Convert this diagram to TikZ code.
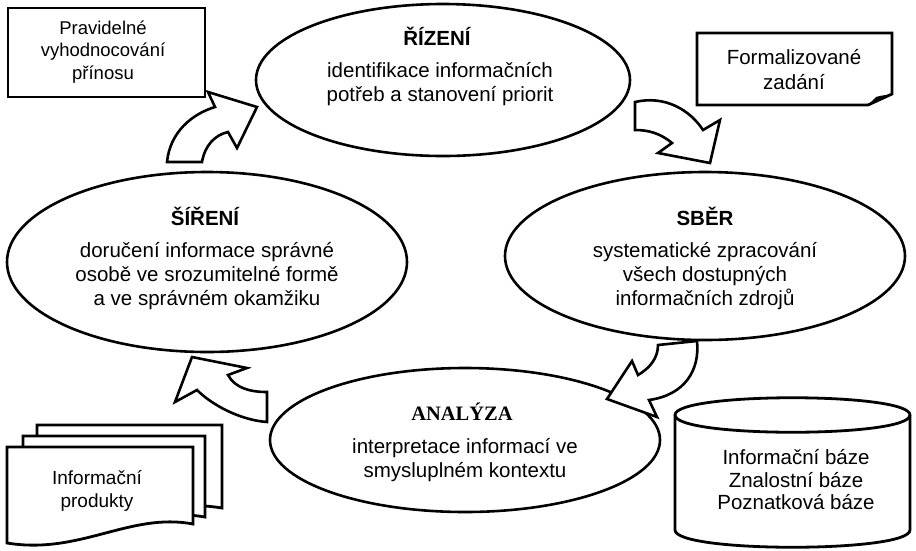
\documentclass[tikz,border=0pt]{standalone}
\usepackage{fontspec}
\setmainfont{Liberation Sans}
\newfontfamily\tnr{Liberation Serif}
\usetikzlibrary{shapes.geometric}
\begin{document}
\begin{tikzpicture}[x=1pt,y=-1pt,
  ell/.style={draw, line width=2.6pt, ellipse, inner sep=0pt, fill=white},
  txt/.style={align=center, inner sep=0pt, font=\fontsize{20.5}{24}\selectfont},
  ttl/.style={inner sep=0pt, font=\fontsize{20.5}{24}\selectfont\bfseries},
  barrow/.style={draw, line width=2.6pt, fill=white, line join=miter},
  boxline/.style={draw, line width=2.8pt, fill=white}]
\useasboundingbox (0,0) rectangle (916,550);
% ellipses
\node[ell, minimum width=374pt, minimum height=152pt] (rizeni) at (443,80) {};
\node[ell, minimum width=400pt, minimum height=180pt] (sireni) at (207,262) {};
\node[ell, minimum width=400pt, minimum height=168pt] (sber) at (705,256) {};
\node[ell, minimum width=390pt, minimum height=144pt] (analyza) at (465,440) {};
% texts
\node[ttl] (tR) at (437,36) {ŘÍZENÍ};
\node[txt] (dR) at (440,84) {identifikace informačních\\potřeb a stanovení priorit};
\node[ttl] (tS) at (205,216) {ŠÍŘENÍ};
\node[txt] (dS) at (207,276) {doručení informace správné\\osobě ve srozumitelné formě\\a ve správném okamžiku};
\node[ttl] (tB) at (705,216) {SBĚR};
\node[txt] (dB) at (705,276) {systematické zpracování\\všech dostupných\\informačních zdrojů};
\node[inner sep=0pt, font=\fontsize{20.5}{24}\selectfont\tnr\bfseries] (tA) at (462,412) {ANALÝZA};
\node[txt] (dA) at (465,460) {interpretace informací ve\\smysluplném kontextu};
% block arrows
\path[barrow] (167,162) -- (202,162) .. controls (205,145) and (215,135) .. (228,132)
  -- (237,148) -- (257,107) -- (208,92) -- (215,107)
  .. controls (192,114) and (170,132) .. (167,162) -- cycle;
\path[barrow] (635,102) .. controls (665,95) and (690,110) .. (703,130)
  -- (720,120) -- (710,163) -- (658,153) -- (672,143)
  .. controls (660,133) and (648,130) .. (635,130) -- cycle;
\path[barrow] (658,345) -- (697,341) .. controls (700,370) and (685,395) .. (649,400)
  -- (657,417) -- (607,399) -- (632,361) -- (638,375)
  .. controls (650,368) and (658,358) .. (658,345) -- cycle;
\path[barrow] (267,392) -- (267,422) .. controls (240,420) and (212,405) .. (197,390)
  -- (175,402) -- (192,357) -- (247,368) -- (228,375)
  .. controls (235,388) and (250,392) .. (267,392) -- cycle;
% Pravidelne box
\node[boxline, minimum width=197pt, minimum height=89pt, inner sep=0pt] (prav) at (106.5,52.5) {};
\node[align=center, inner sep=0pt, font=\fontsize{18.5}{22.5}\selectfont] (pravt) at (103,52) {Pravidelné\\vyhodnocování\\přínosu};
% Formalizovane box with curled corner
\path[boxline] (697,33) -- (892,33) -- (892,94) -- (868,105) -- (697,105) -- cycle;
\fill (868,105) -- (876,97) .. controls (882,95) and (888,95) .. (892,94) -- cycle;
\node[align=center, inner sep=0pt, font=\fontsize{20.5}{25}\selectfont] (formt) at (794,70) {Formalizované\\zadání};
% multi-document
\path[boxline] (37,425) -- (222,425) -- (222,508) .. controls (160,498) and (110,520) .. (37,512) -- cycle;
\path[boxline] (23,436) -- (205,436) -- (205,517) .. controls (145,507) and (95,530) .. (23,522) -- cycle;
\path[boxline] (7,447) -- (193,447) -- (193,524) .. controls (130,512) and (80,555) .. (7,543) -- cycle;
\node[align=center, inner sep=0pt, font=\fontsize{19}{23}\selectfont] (prodt) at (97,491) {Informační\\produkty};
% cylinder
\path[boxline] (675,415) -- (675,530) .. controls (675,553) and (910,553) .. (910,530) -- (910,415)
  .. controls (910,392) and (675,392) .. (675,415) -- cycle;
\draw[line width=2.8pt] (675,415) .. controls (675,438) and (910,438) .. (910,415);
\node[align=center, inner sep=0pt, font=\fontsize{20.5}{22.5}\selectfont] (bazet) at (796,480) {Informační báze\\Znalostní báze\\Poznatková báze};
\end{tikzpicture}
\end{document}
